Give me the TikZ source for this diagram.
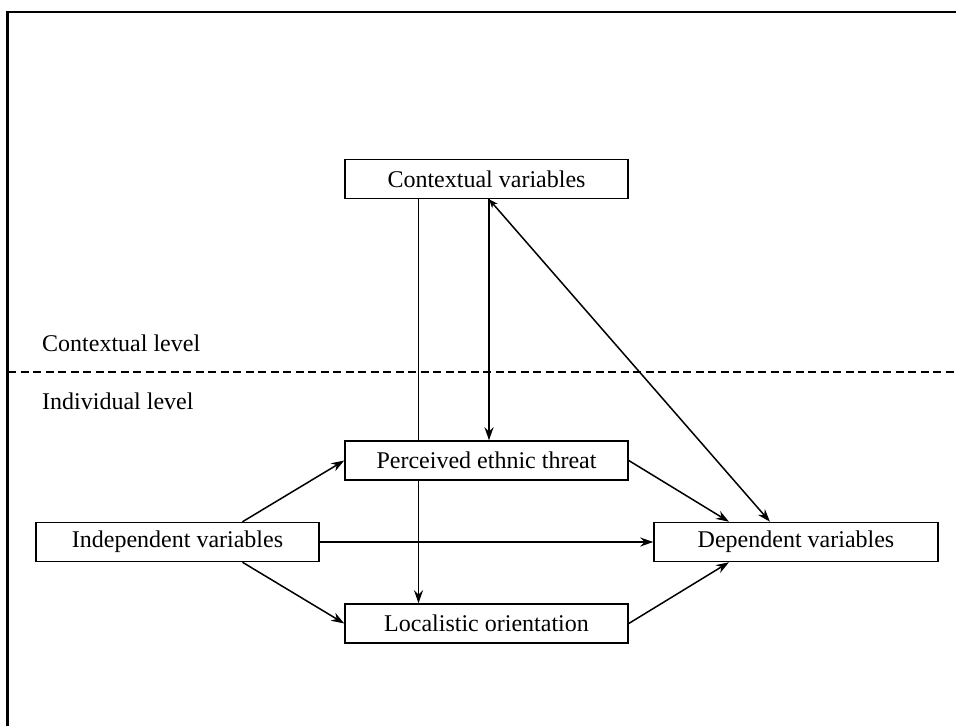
\documentclass[tikz,border=0pt]{standalone}
\usepackage{fontspec}
\setmainfont{Liberation Serif}
\usetikzlibrary{arrows.meta}
\begin{document}
\begin{tikzpicture}[x=1pt,y=-1pt,
  box/.style={draw, line width=1.5pt, fill=white, rectangle, minimum width=283pt, minimum height=39pt, inner sep=0pt, font=\fontsize{24}{28}\selectfont},
  lbl/.style={anchor=base west, inner sep=0pt, font=\fontsize{24}{28}\selectfont},
  conn/.style={line width=1.5pt},
  arr/.style={conn, -{Stealth[length=13pt,width=9pt]}},
]
\useasboundingbox (0,0) rectangle (956,726);
\draw[line width=2.2pt] (7.5,726) -- (7.5,12) -- (956,12);
\draw[line width=2pt, dash pattern=on 8pt off 4.5pt] (8,372) -- (956,372);

\node[lbl] (cl) at (42,351.5) {Contextual level};
\node[lbl] (il) at (42,409) {Individual level};

\node[box] (ctx) at (486.5,179) {Contextual variables};
\node[box] (pet) at (486.5,460.5) {Perceived ethnic threat};
\node[box] (loc) at (486.5,623.5) {Localistic orientation};
\node[box] (ind) at (177.5,542) {Independent variables};
\node[box, minimum width=284pt] (dep) at (796,542) {Dependent variables};

\draw[conn] ([xshift=-68pt]ctx.south) -- ([xshift=-68pt]pet.north);
\draw[arr] ([xshift=-68pt]pet.south) -- ([xshift=-68pt]loc.north);
\draw[arr] ([xshift=2.5pt]ctx.south) -- ([xshift=2.5pt]pet.north);
\draw[conn, {Stealth[length=9pt,width=7pt]}-{Stealth[length=13pt,width=9pt]}] ([xshift=2.5pt]ctx.south) -- ([xshift=-26pt]dep.north);
\draw[arr] (pet.east) -- ([xshift=-67pt]dep.north);
\draw[arr] ([xshift=65pt]ind.north) -- (pet.west);
\draw[arr] ([xshift=65pt]ind.south) -- (loc.west);
\draw[arr] (ind.east) -- (dep.west);
\draw[arr] (loc.east) -- ([xshift=-67pt]dep.south);
\end{tikzpicture}
\end{document}
